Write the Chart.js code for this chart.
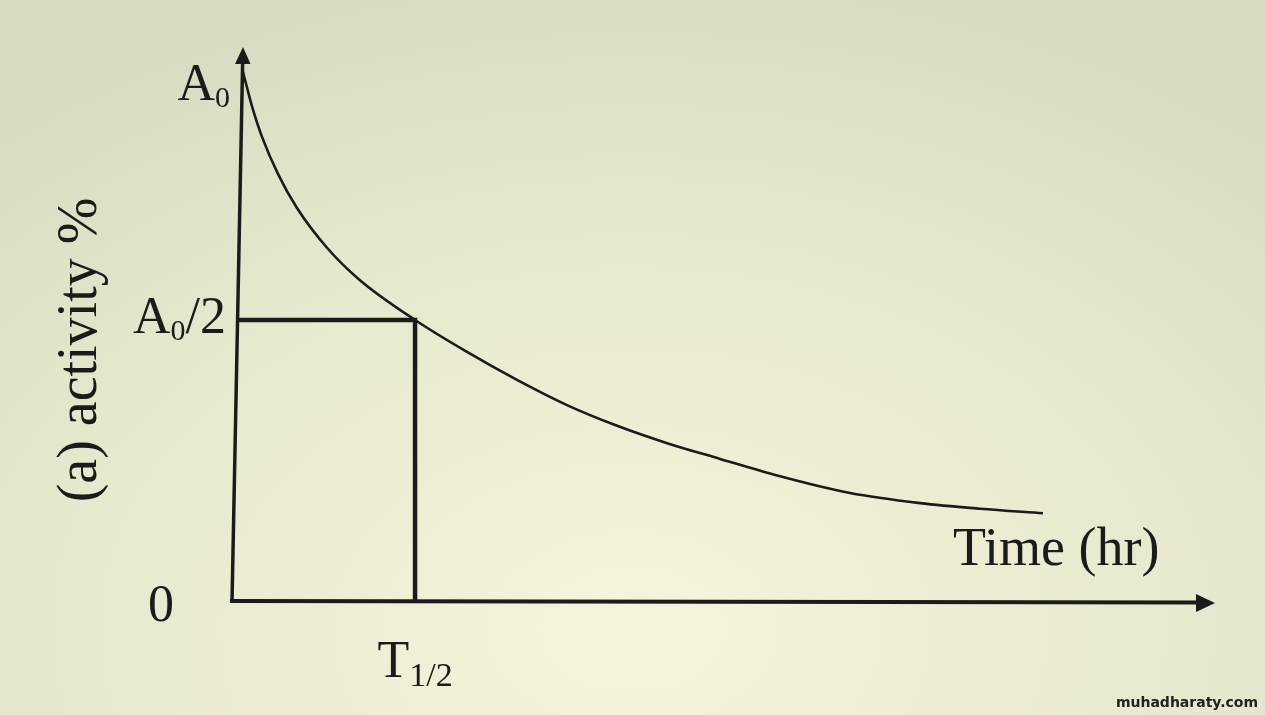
<!DOCTYPE html>
<html><head><meta charset="utf-8">
<script src="https://cdn.jsdelivr.net/npm/chart.js@4.4.0/dist/chart.umd.min.js"></script>
<style>
html,body{margin:0;padding:0;width:1265px;height:715px;overflow:hidden;}
body{background: radial-gradient(ellipse 75% 90% at 50% 88%, #f6f4dc 0%, #eeedd4 35%, #e4e6cc 70%, #d9dcc2 100%);}
#wrap{position:relative;width:1265px;height:715px;}
</style></head>
<body><div id="wrap"><canvas id="c"></canvas></div>
<script>
// ---- data ----
const timeValues     = [0.6, 0.71, 1.09, 1.64, 2.51, 3.55, 5.19, 6.99, 10, 12.84, 15.57, 18.30, 21.04, 23.77, 26.66, 29.94, 33.76, 37.59, 40.86, 44.30];
const activityValues = [94.3, 92.9, 88.2, 82.7, 76.1, 70.0, 62.9, 57.1, 50, 44.3, 39.3, 34.8, 31.1, 28.0, 25.2, 22.1, 19.1, 17.3, 16.3, 15.5];
const halfLifeTime = 10;
const halfActivity = 50;
const yTickValues = [0, 50, 92];
const yTickLabels = ['0', 'A_0/2', 'A_0'];
const xTickValues = [10];
const xTickLabels = ['T_{1/2}'];
const xAxisTitle = 'Time (hr)';
const yAxisTitle = '(a) activity %';
const watermark = 'muhadharaty.com';

const INK = '#1b1b1b';
const SERIF = '"Liberation Serif", "Times New Roman", serif';

function parseRich(s){
  const parts=[]; let i=0, buf='';
  while(i<s.length){
    if(s[i]==='_'){
      if(buf){parts.push({t:buf,sub:false});buf='';}
      if(s[i+1]==='{'){const j=s.indexOf('}',i);parts.push({t:s.slice(i+2,j),sub:true});i=j+1;}
      else {parts.push({t:s[i+1],sub:true});i+=2;}
    } else {buf+=s[i];i++;}
  }
  if(buf) parts.push({t:buf,sub:false});
  return parts;
}
function drawRich(ctx, s, x, y, align, size, subSize, subDrop){
  const parts=parseRich(s);
  const fontOf=p=>`${p.sub?subSize:size}px ${SERIF}`;
  let w=0;
  parts.forEach(p=>{ctx.font=fontOf(p);p.w=ctx.measureText(p.t).width;w+=p.w;});
  let cx = align==='right'? x-w : align==='center'? x-w/2 : x;
  ctx.textAlign='left'; ctx.textBaseline='alphabetic';
  parts.forEach(p=>{ctx.font=fontOf(p);ctx.fillText(p.t,cx,y+(p.sub?subDrop:0));cx+=p.w;});
}

const TILT = 11; // photo perspective: y axis leans right at the top

const deco = {
  id:'deco',
  beforeDatasetsDraw(chart){
    const {ctx, chartArea:ca, scales:{x:xs,y:ys}} = chart;
    const x0 = xs.getPixelForValue(0), y0 = ys.getPixelForValue(0);
    const topY = ca.top + 7;
    ctx.save();
    ctx.strokeStyle = INK; ctx.fillStyle = INK; ctx.lineCap='butt';
    // y axis
    ctx.lineWidth = 3.5;
    ctx.beginPath(); ctx.moveTo(x0, y0+2); ctx.lineTo(x0+TILT*0.97, topY+14); ctx.stroke();
    ctx.beginPath(); ctx.moveTo(x0+TILT, topY); ctx.lineTo(x0+TILT-8, topY+17); ctx.lineTo(x0+TILT+7.5, topY+17); ctx.closePath(); ctx.fill();
    // x axis
    ctx.lineWidth = 4;
    ctx.beginPath(); ctx.moveTo(x0-2, y0+1); ctx.lineTo(ca.right-16, y0+2.5); ctx.stroke();
    ctx.beginPath(); ctx.moveTo(ca.right, y0+3); ctx.lineTo(ca.right-19, y0-6); ctx.lineTo(ca.right-19, y0+12); ctx.closePath(); ctx.fill();
    ctx.restore();
    // clip datasets to the right of the leaning y axis
    ctx.save();
    ctx.beginPath();
    ctx.moveTo(x0, y0+10); ctx.lineTo(x0+TILT, ca.top-10); ctx.lineTo(ca.right+10, ca.top-10); ctx.lineTo(ca.right+10, y0+10); ctx.closePath();
    ctx.clip();
  },
  afterDatasetsDraw(chart){
    const {ctx, chartArea:ca, scales:{x:xs,y:ys}} = chart;
    ctx.restore();
    ctx.save();
    ctx.fillStyle = INK;
    // y tick labels
    const yStyle = [ {x:161, align:'center', dy:21, sub:30, drop:7},
                     {x:226, align:'right',  dy:13, sub:30, drop:7},
                     {x:230, align:'right',  dy:15, sub:30, drop:7} ];
    yTickValues.forEach((v,i)=>{
      const st=yStyle[i]; const py=ys.getPixelForValue(v);
      drawRich(ctx, yTickLabels[i], st.x, py+st.dy, st.align, 52, st.sub, st.drop);
    });
    // x tick labels
    xTickValues.forEach((v,i)=>{
      const px=xs.getPixelForValue(v);
      drawRich(ctx, xTickLabels[i], px, ys.getPixelForValue(0)+77, 'center', 52, 34, 9);
    });
    // axis titles
    ctx.font = `54px ${SERIF}`; ctx.textAlign='left'; ctx.textBaseline='alphabetic';
    ctx.fillText(xAxisTitle, ca.right-262, ys.getPixelForValue(0)-35);
    ctx.save();
    ctx.translate(96, 350); ctx.rotate(-Math.PI/2);
    ctx.textAlign='center'; ctx.font = `56px ${SERIF}`;
    ctx.fillText(yAxisTitle, 0, 0);
    ctx.restore();
    // watermark
    ctx.font = 'bold 14px "DejaVu Sans", sans-serif'; ctx.textAlign='right'; ctx.fillStyle='#222';
    ctx.fillText(watermark, 1258, 707);
    ctx.restore();
  }
};

new Chart(document.getElementById('c'), {
  type:'scatter',
  data:{
    datasets:[
      { label:'decay', data: timeValues.map((t,i)=>({x:t,y:activityValues[i]})),
        showLine:true, borderColor:INK, borderWidth:2.6, pointRadius:0,
        cubicInterpolationMode:'monotone', fill:false },
      { label:'half-life', data:[{x:0,y:halfActivity},{x:halfLifeTime,y:halfActivity},{x:halfLifeTime,y:0}],
        showLine:true, borderColor:INK, borderWidth:4.5, pointRadius:0, tension:0,
        borderJoinStyle:'miter', fill:false }
    ]
  },
  options:{
    responsive:true, maintainAspectRatio:false, animation:false,
    layout:{padding:{left:232, right:50, top:40, bottom:115}},
    plugins:{legend:{display:false}, tooltip:{enabled:false}},
    scales:{
      x:{type:'linear', min:0, max:53.7, display:false},
      y:{type:'linear', min:0, max:100, display:false}
    }
  },
  plugins:[deco]
});
</script>
</body></html>
